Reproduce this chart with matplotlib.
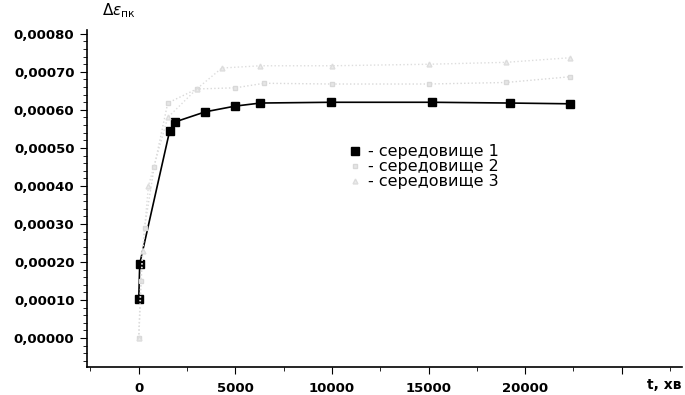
import matplotlib.pyplot as plt
from matplotlib.ticker import FuncFormatter, MultipleLocator

# середовище 1 (чорні квадрати)
t1 = [0, 50, 1600, 1860, 3450, 5000, 6300, 9950, 15200, 19200, 22300]
e1 = [0.000103, 0.000195, 0.000545, 0.000568, 0.000595, 0.000610,
      0.000618, 0.000620, 0.000620, 0.000618, 0.000616]

# середовище 2 (світло-сірі квадрати)
t2 = [0, 100, 300, 800, 1500, 3000, 5000, 6500, 10000, 15000, 19000, 22300]
e2 = [0.0, 0.00015, 0.00029, 0.00045, 0.000618, 0.000655, 0.000658,
      0.000670, 0.000668, 0.000668, 0.000672, 0.000687]

# середовище 3 (світло-сірі трикутники)
t3 = [0, 200, 500, 1500, 3000, 4300, 6300, 10000, 15000, 19000, 22300]
e3 = [0.0, 0.00023, 0.00040, 0.00058, 0.000655, 0.000710, 0.000716,
      0.000716, 0.000720, 0.000725, 0.000737]

labels = ["- середовище 1", "- середовище 2", "- середовище 3"]

plt.rcParams["font.family"] = ["DejaVu Sans"]

fig = plt.figure(figsize=(6.85, 3.95), dpi=100)
ax = fig.add_axes([0.127, 0.071, 0.868, 0.853])

ax.plot(t1, e1, color="black", lw=1.2, marker="s", ms=6, label=labels[0])
ax.plot(t2, e2, color="#d8d8d8", lw=1.0, ls=":", marker="s", ms=3.5,
        mfc="#e6e6e6", mec="#d8d8d8", label=labels[1])
ax.plot(t3, e3, color="#dddddd", lw=1.0, ls=":", marker="^", ms=3.5,
        mfc="#ebebeb", mec="#dddddd", label=labels[2])

ax.set_xlim(-2680, 28100)
ax.set_ylim(-0.000076, 0.00081)

ax.xaxis.set_major_locator(MultipleLocator(5000))
ax.xaxis.set_minor_locator(MultipleLocator(2500))
ax.yaxis.set_major_locator(MultipleLocator(0.0001))
ax.yaxis.set_minor_locator(MultipleLocator(0.00002))

ax.xaxis.set_major_formatter(FuncFormatter(
    lambda v, p: f"{v:.0f}" if 0 <= v <= 20000 else ""))
ax.yaxis.set_major_formatter(FuncFormatter(
    lambda v, p: f"{v:.5f}".replace(".", ",") if v >= -1e-9 else ""))

ax.tick_params(axis="both", labelsize=9.5, direction="out", width=0.8)
ax.tick_params(axis="both", which="major", length=5)
ax.tick_params(axis="both", which="minor", length=3)
ax.tick_params(axis="y", pad=4)
ax.tick_params(axis="x", pad=6)
for lab in ax.get_xticklabels() + ax.get_yticklabels():
    lab.set_fontweight("bold")

for side in ("top", "right"):
    ax.spines[side].set_visible(False)
ax.spines["left"].set_linewidth(1.2)
ax.spines["bottom"].set_linewidth(1.2)

ax.text(-1900, 0.00086, r"$\Delta\varepsilon_{\rm пк}$", fontsize=11,
        ha="left", va="center", clip_on=False)
ax.text(1.0, -0.053, "t, хв", transform=ax.transAxes, fontsize=10,
        fontweight="bold", ha="right", va="center")

leg = ax.legend(loc="upper left", bbox_to_anchor=(0.425, 0.685), frameon=False,
                fontsize=11.5, handlelength=0.9, handletextpad=0.4,
                labelspacing=0.0, borderpad=0)
for h in leg.legend_handles:
    h.set_linestyle("None")

fig.savefig("out.png", dpi=100)
